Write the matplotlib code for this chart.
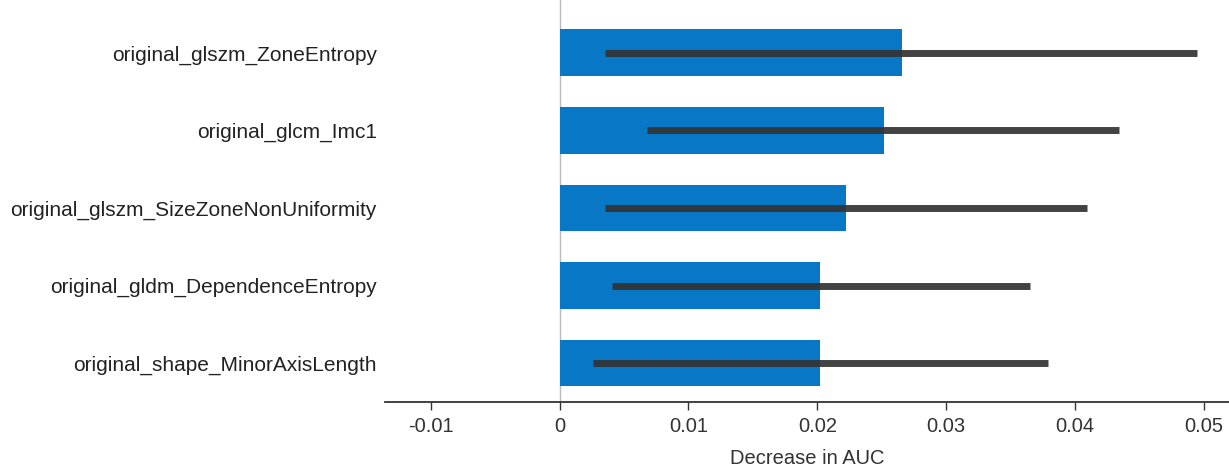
import matplotlib
matplotlib.use("Agg")
import matplotlib.pyplot as plt

features = [
    "original_shape_MinorAxisLength",
    "original_gldm_DependenceEntropy",
    "original_glszm_SizeZoneNonUniformity",
    "original_glcm_Imc1",
    "original_glszm_ZoneEntropy",
]
means = [0.0202, 0.0202, 0.0222, 0.0252, 0.0266]
err_low = [0.0026, 0.0041, 0.0035, 0.0068, 0.0035]
err_high = [0.0379, 0.0365, 0.0409, 0.0434, 0.0495]
xticks = [-0.01, 0, 0.01, 0.02, 0.03, 0.04, 0.05]
xtick_labels = ["-0.01", "0", "0.01", "0.02", "0.03", "0.04", "0.05"]

plt.rcParams['font.family'] = ['Liberation Sans', 'DejaVu Sans']

fig = plt.figure(figsize=(12.29, 4.70), dpi=100)
ax = fig.add_axes([385/1229, 1 - 402/470, (1229-385)/1229, 402/470])

y = list(range(len(features)))
ax.barh(y, means, height=0.6, color="#0878c6", zorder=2)
for yi, lo, hi in zip(y, err_low, err_high):
    ax.plot([lo, hi], [yi, yi], color="#333333", lw=5, alpha=0.92,
            solid_capstyle="butt", zorder=3)

ax.axvline(0, color="#bbbbbb", lw=1, zorder=1)

ax.set_xlim(-0.01355, 0.05195)
ax.set_ylim(-0.5, 4.68)
ax.set_yticks(y)
ax.set_yticklabels(features, fontsize=15, color="#222222")
ax.tick_params(axis="y", length=0, pad=6)
ax.set_xticks(xticks)
ax.set_xticklabels(xtick_labels, fontsize=14.5, color="#333333")
ax.tick_params(axis="x", length=6, width=1, color="#333333", pad=5)
for s in ["top", "right", "left"]:
    ax.spines[s].set_visible(False)
ax.spines["bottom"].set_color("#333333")
ax.spines["bottom"].set_linewidth(1.3)
ax.set_xlabel("Decrease in AUC", fontsize=14.5, color="#333333", labelpad=9)

fig.savefig("out.png", dpi=100)
